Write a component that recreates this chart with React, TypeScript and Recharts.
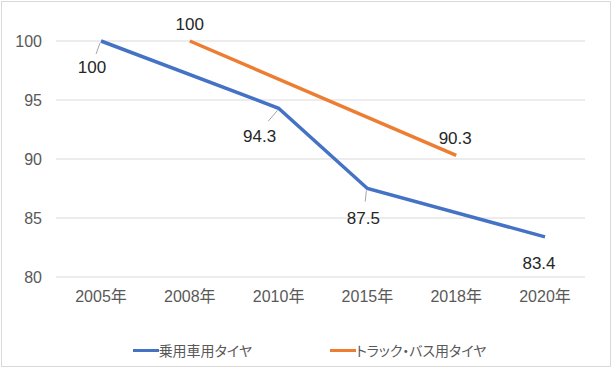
import { LineChart, Line, XAxis, YAxis, CartesianGrid, Legend, LabelList } from "recharts";

const years = ["2005年", "2008年", "2010年", "2015年", "2018年", "2020年"];
const passenger = [100, null, 94.3, 87.5, null, 83.4];
const truckBus = [null, 100, null, null, 90.3, null];
const yTicks = [80, 85, 90, 95, 100];

const BLUE = "#4472C4";
const ORANGE = "#ED7D31";
const FONT = "'Liberation Sans', Arial, 'Noto Sans CJK JP', sans-serif";

const data = years.map((year, i) => ({
  year,
  passenger: passenger[i],
  truckBus: truckBus[i],
}));

// label placement relative to the point (dx, dy), plus whether a leader line is drawn
const passengerLabelPos: Record<number, [number, number, boolean]> = {
  0: [-9, 26, true],
  2: [-19, 28, true],
  3: [-4, 30, true],
  5: [-6, 27, false],
};
const truckLabelPos: Record<number, [number, number, boolean]> = {
  1: [0, -17, false],
  4: [-1, -17, false],
};

function makeLabel(pos: Record<number, [number, number, boolean]>) {
  return (props: any) => {
    const { x, y, value, index } = props;
    if (value == null || !pos[index]) return null;
    const [dx, dy, leader] = pos[index];
    const lx = x + dx;
    const ly = y + dy;
    return (
      <g>
        {leader && (
          <line
            x1={x - 1}
            y1={y + 2}
            x2={x + dx * 0.55}
            y2={y + 13}
            stroke="#a6a6a6"
            strokeWidth={1}
          />
        )}
        <text
          x={lx}
          y={ly}
          textAnchor="middle"
          dominantBaseline="central"
          fontSize={17}
          fill="#262626"
          fontFamily={FONT}
        >
          {value}
        </text>
      </g>
    );
  };
}

function LegendContent() {
  const items = [
    { name: "乗用車用タイヤ", color: BLUE },
    { name: "トラック・バス用タイヤ", color: ORANGE },
  ];
  return (
    <div
      style={{
        display: "flex",
        justifyContent: "center",
        gap: 78,
        paddingTop: 33,
        fontFamily: FONT,
        fontSize: 14,
        fontFeatureSettings: '"palt"',
        color: "#595959",
        paddingLeft: 34,
      }}
    >
      {items.map((it) => (
        <div key={it.name} style={{ display: "flex", alignItems: "center" }}>
          <span style={{ display: "inline-block", width: 26, height: 3, background: it.color }} />
          <span>{it.name}</span>
        </div>
      ))}
    </div>
  );
}

export default function App() {
  return (
    <div
      style={{
        position: "absolute",
        left: 0,
        top: 0,
        width: 613,
        height: 369,
        background: "#fff",
      }}
    >
      <div
        style={{
          position: "absolute",
          left: 1,
          top: 1,
          width: 610,
          height: 366,
          border: "1px solid #d9d9d9",
          boxSizing: "border-box",
        }}
      />
      <LineChart
        width={613}
        height={369}
        data={data}
        margin={{ top: 41, right: 28, left: 0, bottom: 0 }}
        style={{ fontFamily: FONT }}
      >
        <CartesianGrid vertical={false} stroke="#d9d9d9" strokeWidth={1} />
        <XAxis
          dataKey="year"
          axisLine={false}
          tickLine={false}
          height={30}
          padding={{ left: 45, right: 40 }}
          tick={{ fill: "#595959", fontSize: 16 }}
          tickMargin={8}
        />
        <YAxis
          domain={[80, 100]}
          ticks={yTicks}
          axisLine={false}
          tickLine={false}
          width={56}
          tick={{ fill: "#595959", fontSize: 16 }}
          tickMargin={8}
        />
        <Legend verticalAlign="bottom" height={62} content={<LegendContent />} />
        <Line
          type="linear"
          dataKey="passenger"
          name="乗用車用タイヤ"
          stroke={BLUE}
          strokeWidth={3.5}
          dot={false}
          connectNulls
          isAnimationActive={false}
        >
          <LabelList dataKey="passenger" content={makeLabel(passengerLabelPos)} />
        </Line>
        <Line
          type="linear"
          dataKey="truckBus"
          name="トラック・バス用タイヤ"
          stroke={ORANGE}
          strokeWidth={3.5}
          dot={false}
          connectNulls
          isAnimationActive={false}
        >
          <LabelList dataKey="truckBus" content={makeLabel(truckLabelPos)} />
        </Line>
      </LineChart>
    </div>
  );
}
